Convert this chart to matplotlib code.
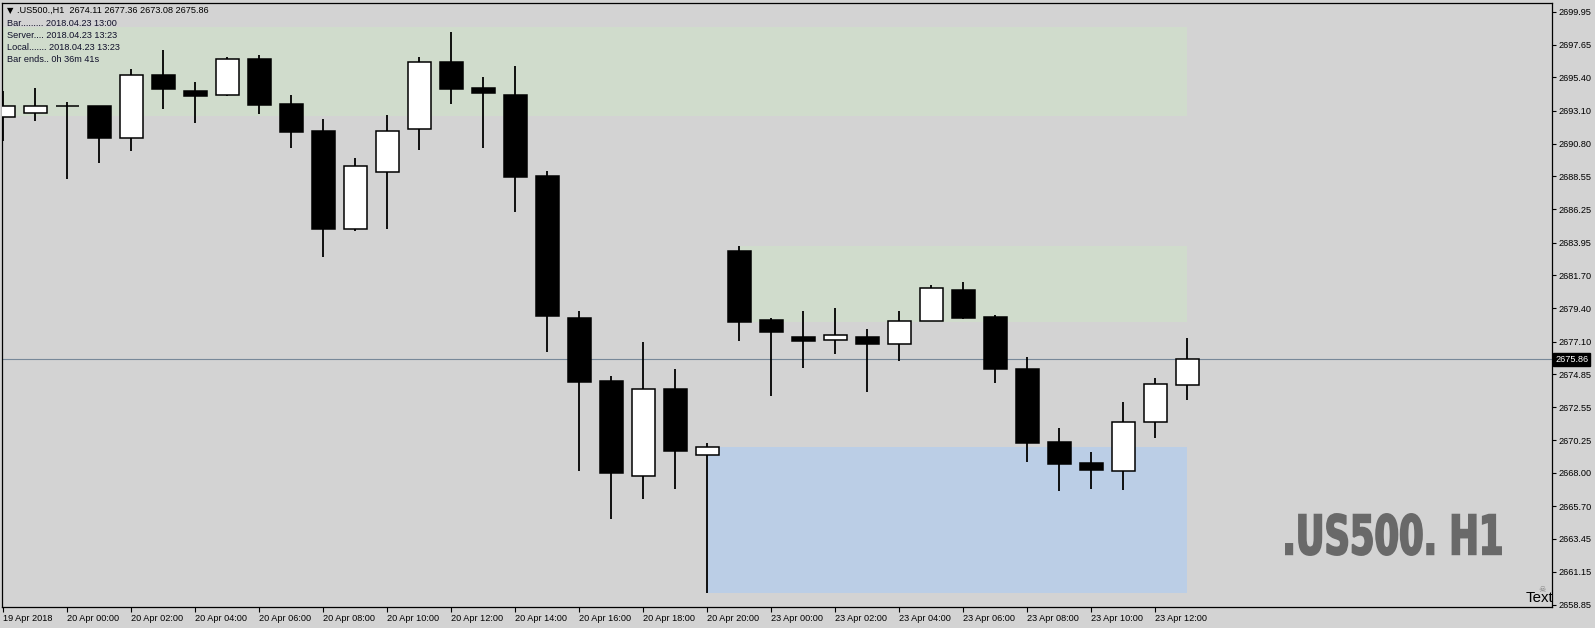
import matplotlib
matplotlib.use('Agg')
import matplotlib.pyplot as plt
import matplotlib.transforms as mtransforms
from matplotlib.textpath import TextPath
from matplotlib.font_manager import FontProperties
from matplotlib.patches import PathPatch
import numpy as np

plt.rcParams['font.family'] = ['Liberation Sans', 'DejaVu Sans']

# H1 candles, bar 0 = 19 Apr 22:00 ... bar 37 = 23 Apr 13:00
opens = [2692.68, 2692.91, 2693.40, 2693.40, 2691.18, 2695.54, 2694.46, 2694.16,
         2696.67, 2693.56, 2691.69, 2684.92, 2688.87, 2691.80, 2696.44, 2694.64,
         2694.18, 2688.57, 2678.73, 2674.37, 2667.77, 2673.79, 2669.26, 2683.37,
         2678.57, 2677.42, 2677.19, 2677.42, 2676.91, 2678.50, 2680.65, 2678.78,
         2675.18, 2670.14, 2668.67, 2668.11, 2671.51, 2674.11]
highs = [2694.48, 2694.66, 2693.69, 2693.42, 2695.98, 2697.30, 2695.08, 2696.79,
         2696.95, 2694.16, 2692.52, 2689.82, 2692.77, 2696.79, 2698.52, 2695.41,
         2696.19, 2688.91, 2679.22, 2674.71, 2677.07, 2675.20, 2670.05, 2683.72,
         2678.71, 2679.22, 2679.42, 2677.97, 2679.22, 2681.02, 2681.23, 2678.94,
         2676.03, 2671.11, 2669.45, 2672.91, 2674.58, 2677.36]
lows = [2691.01, 2692.40, 2688.38, 2689.49, 2690.32, 2693.23, 2692.26, 2694.14,
        2692.86, 2690.53, 2682.98, 2684.78, 2684.90, 2690.37, 2693.58, 2690.53,
        2686.10, 2676.40, 2668.15, 2664.83, 2666.21, 2666.91, 2659.70, 2677.16,
        2673.35, 2675.29, 2676.26, 2673.63, 2675.77, 2678.50, 2678.68, 2674.25,
        2668.78, 2666.77, 2666.91, 2666.84, 2670.44, 2673.08]
closes = [2693.42, 2693.40, 2693.40, 2691.18, 2695.54, 2694.62, 2694.13, 2696.65,
          2693.51, 2691.64, 2684.92, 2689.26, 2691.69, 2696.44, 2694.62, 2694.30,
          2688.52, 2678.89, 2674.32, 2668.02, 2673.79, 2669.54, 2669.78, 2678.48,
          2677.78, 2677.16, 2677.53, 2676.91, 2678.50, 2680.79, 2678.75, 2675.22,
          2670.09, 2668.64, 2668.22, 2671.51, 2674.14, 2675.86]

# supply / demand zones: start bar, end bar, low price, high price
zone_start = [-2, 23, 22]
zone_end = [37, 37, 37]
zone_low = [2692.72, 2678.48, 2659.70]
zone_high = [2698.87, 2683.72, 2669.78]
zone_color = ['#d0dccc', '#d0dccc', '#bbcee6']

last_price = 2675.86

x_tick_labels = ['19 Apr 2018', '20 Apr 00:00', '20 Apr 02:00', '20 Apr 04:00',
                 '20 Apr 06:00', '20 Apr 08:00', '20 Apr 10:00', '20 Apr 12:00',
                 '20 Apr 14:00', '20 Apr 16:00', '20 Apr 18:00', '20 Apr 20:00',
                 '23 Apr 00:00', '23 Apr 02:00', '23 Apr 04:00', '23 Apr 06:00',
                 '23 Apr 08:00', '23 Apr 10:00', '23 Apr 12:00']
y_ticks = [2699.95, 2697.65, 2695.40, 2693.10, 2690.80, 2688.55, 2686.25, 2683.95,
           2681.70, 2679.40, 2677.10, 2674.85, 2672.55, 2670.25, 2668.00, 2665.70,
           2663.45, 2661.15, 2658.85]

W, H = 1595, 628
bg = '#d3d3d3'
fig = plt.figure(figsize=(W / 100, H / 100), dpi=100, facecolor=bg)
ax = fig.add_axes([2 / W, 1 - 607 / H, 1550 / W, 604 / H], facecolor=bg)

o = np.array(opens)
c = np.array(closes)
x = np.arange(len(o))

# zones
for x0, x1, lo, hi, col in zip(zone_start, zone_end, zone_low, zone_high, zone_color):
    ax.fill_between([x0, x1], lo, hi, color=col, lw=0, zorder=1)

ax.axhline(last_price, color='#778899', lw=0.8, zorder=1.5)

# candles
ax.vlines(x, lows, highs, color='black', lw=1.3, zorder=2)
body_col = np.where(c >= o, 'white', 'black')
ax.bar(x, np.abs(c - o), bottom=np.minimum(o, c), width=0.72, color=body_col,
       edgecolor='black', linewidth=1.1, zorder=3)

ax.set_xlim(-0.04, 48.39)
ax.set_ylim(2658.71, 2700.55)

ax.set_xticks(np.arange(0, 37, 2))
ax.set_xticklabels(x_tick_labels, ha='left', fontsize=6.6)
ax.set_yticks(y_ticks)
ax.set_yticklabels(['%.2f' % v for v in y_ticks], fontsize=6.6)
ax.yaxis.tick_right()
ax.tick_params(axis='y', direction='out', length=3, width=0.8, pad=1.5)
ax.tick_params(axis='x', direction='out', length=3.5, width=0.8, pad=1.5)
for s in ax.spines.values():
    s.set_color('black')
    s.set_linewidth(0.9)

# last price marker on the axis
tr = mtransforms.blended_transform_factory(ax.transAxes, ax.transData)
ax.text(1.002, last_price, '%.2f' % last_price, transform=tr, fontsize=6.6,
        color='white', va='center', ha='left', zorder=5, clip_on=False,
        bbox=dict(facecolor='black', edgecolor='black', pad=1.2))

# info panel
fig.text(7 / W, 1 - 10.7 / H, '\u25bc', fontsize=6, family=['DejaVu Sans'],
         va='center', color='black')
fig.text(17 / W, 1 - 10.7 / H, '.US500.,H1  2674.11 2677.36 2673.08 2675.86',
         fontsize=6.6, va='center', color='black')
info = ['Bar......... 2018.04.23 13:00', 'Server.... 2018.04.23 13:23',
        'Local....... 2018.04.23 13:23', 'Bar ends.. 0h 36m 41s']
for i, line in enumerate(info):
    fig.text(6.7 / W, 1 - (23.3 + 12.2 * i) / H, line, fontsize=6.6,
             va='center', color='#10102a')

# watermark, squeezed into the same box as the condensed original
tp = TextPath((0, 0), '.US500. H1', size=60,
              prop=FontProperties(family='DejaVu Sans', weight='bold'))
ext = tp.get_extents()
box_l, box_r, box_top, box_bot = 1286, 1501, 514, 555
sx = (box_r - box_l) / ext.width
sy = (box_bot - box_top) / ext.height
wm_tr = (mtransforms.Affine2D().translate(-ext.x0, -ext.y0).scale(sx, sy)
         .translate(box_l, H - box_bot))
fig.add_artist(PathPatch(tp, facecolor='#696969', edgecolor='#696969', lw=1.4,
                         transform=wm_tr))

fig.text(1553 / W, 1 - 605 / H, 'Text', fontsize=10.8, ha='right', va='bottom',
         color='black')
fig.text(1542 / W, 1 - 589 / H, '\u2620', fontsize=6, family=['DejaVu Sans'],
         ha='center', va='center', color='#808080')

fig.savefig('out.png', dpi=100, facecolor=bg)
